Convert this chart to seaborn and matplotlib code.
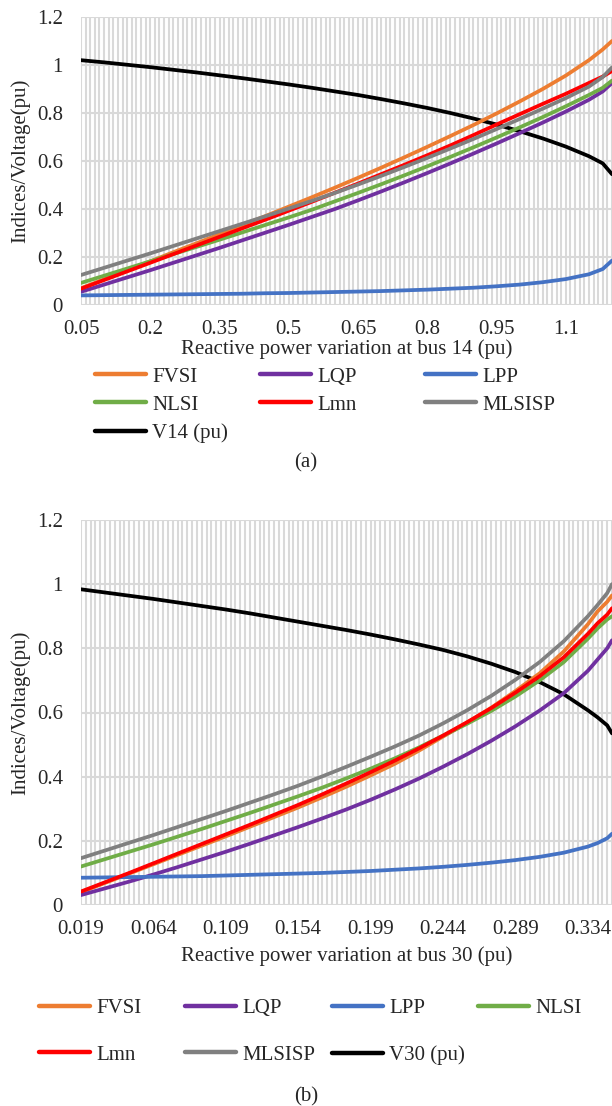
import numpy as np
import pandas as pd
import matplotlib
matplotlib.use("Agg")
import matplotlib.pyplot as plt
from matplotlib.ticker import FixedLocator, NullFormatter
from matplotlib.lines import Line2D
import seaborn as sns

sns.set_theme(style="white")
plt.rcParams['font.family'] = ['Liberation Serif', 'DejaVu Serif']

# ---------------- Data: (a) bus 14 ----------------
x_a = [0.05, 0.10, 0.15, 0.20, 0.25, 0.30, 0.35, 0.40, 0.45, 0.50, 0.55, 0.60,
       0.65, 0.70, 0.75, 0.80, 0.85, 0.90, 0.95, 1.00, 1.05, 1.10, 1.15, 1.18, 1.20]
fvsi_a = [0.070, 0.107, 0.145, 0.182, 0.220, 0.257, 0.295, 0.333, 0.371, 0.410, 0.449, 0.489,
          0.530, 0.572, 0.615, 0.659, 0.704, 0.750, 0.798, 0.848, 0.900, 0.956, 1.020, 1.065, 1.100]
lqp_a = [0.055, 0.085, 0.115, 0.145, 0.176, 0.207, 0.238, 0.270, 0.302, 0.334, 0.367, 0.400,
         0.436, 0.473, 0.511, 0.550, 0.590, 0.631, 0.673, 0.716, 0.760, 0.806, 0.855, 0.890, 0.925]
lpp_a = [0.040, 0.041, 0.042, 0.043, 0.044, 0.045, 0.046, 0.047, 0.049, 0.050, 0.052, 0.054,
         0.056, 0.058, 0.061, 0.064, 0.068, 0.072, 0.078, 0.085, 0.095, 0.108, 0.128, 0.150, 0.185]
nlsi_a = [0.092, 0.122, 0.152, 0.182, 0.212, 0.242, 0.272, 0.303, 0.334, 0.365, 0.397, 0.432,
          0.467, 0.503, 0.540, 0.578, 0.617, 0.657, 0.698, 0.740, 0.783, 0.828, 0.875, 0.905, 0.935]
lmn_a = [0.068, 0.104, 0.140, 0.176, 0.212, 0.248, 0.284, 0.320, 0.356, 0.393, 0.430, 0.468,
         0.506, 0.545, 0.584, 0.624, 0.665, 0.708, 0.752, 0.795, 0.838, 0.880, 0.925, 0.952, 0.975]
mlsisp_a = [0.125, 0.155, 0.185, 0.215, 0.246, 0.277, 0.308, 0.339, 0.370, 0.402, 0.434, 0.467,
            0.502, 0.538, 0.575, 0.613, 0.652, 0.692, 0.733, 0.775, 0.818, 0.862, 0.910, 0.950, 0.990]
v14 = [1.020, 1.011, 1.001, 0.991, 0.980, 0.969, 0.957, 0.945, 0.932, 0.919, 0.905, 0.890,
       0.875, 0.858, 0.840, 0.821, 0.800, 0.777, 0.752, 0.724, 0.694, 0.660, 0.620, 0.590, 0.545]
xticks_a = [0.05, 0.20, 0.35, 0.50, 0.65, 0.80, 0.95, 1.10]
xticklabels_a = ["0.05", "0.2", "0.35", "0.5", "0.65", "0.8", "0.95", "1.1"]

# ---------------- Data: (b) bus 30 ----------------
x_b = [0.019, 0.034, 0.049, 0.064, 0.079, 0.094, 0.109, 0.124, 0.139, 0.154, 0.169, 0.184,
       0.199, 0.214, 0.229, 0.244, 0.259, 0.274, 0.289, 0.304, 0.319, 0.334, 0.340, 0.346, 0.349]
fvsi_b = [0.040, 0.069, 0.098, 0.127, 0.156, 0.185, 0.214, 0.244, 0.274, 0.304, 0.336, 0.369,
          0.404, 0.440, 0.481, 0.525, 0.568, 0.615, 0.667, 0.722, 0.790, 0.875, 0.915, 0.945, 0.965]
lqp_b = [0.031, 0.052, 0.073, 0.095, 0.118, 0.142, 0.166, 0.191, 0.217, 0.243, 0.270, 0.298,
         0.328, 0.360, 0.394, 0.431, 0.470, 0.512, 0.557, 0.606, 0.660, 0.730, 0.765, 0.800, 0.825]
lpp_b = [0.085, 0.086, 0.087, 0.088, 0.089, 0.090, 0.092, 0.094, 0.096, 0.098, 0.100, 0.103,
         0.106, 0.110, 0.114, 0.119, 0.125, 0.132, 0.140, 0.150, 0.163, 0.182, 0.193, 0.208, 0.222]
nlsi_b = [0.120, 0.143, 0.166, 0.189, 0.213, 0.237, 0.262, 0.287, 0.313, 0.339, 0.366, 0.395,
          0.425, 0.457, 0.491, 0.528, 0.565, 0.605, 0.650, 0.700, 0.757, 0.830, 0.862, 0.890, 0.900]
lmn_b = [0.042, 0.071, 0.100, 0.130, 0.160, 0.190, 0.220, 0.250, 0.281, 0.312, 0.345, 0.379,
         0.414, 0.450, 0.488, 0.528, 0.570, 0.614, 0.662, 0.713, 0.772, 0.845, 0.878, 0.905, 0.925]
mlsisp_b = [0.146, 0.170, 0.194, 0.218, 0.243, 0.268, 0.293, 0.319, 0.345, 0.372, 0.401, 0.431,
            0.462, 0.494, 0.528, 0.566, 0.607, 0.652, 0.702, 0.757, 0.822, 0.900, 0.935, 0.972, 1.000]
v30 = [0.984, 0.974, 0.964, 0.954, 0.943, 0.932, 0.921, 0.909, 0.896, 0.883, 0.870, 0.857,
       0.843, 0.828, 0.812, 0.795, 0.775, 0.752, 0.726, 0.695, 0.657, 0.607, 0.585, 0.560, 0.535]
xticks_b = [0.019, 0.064, 0.109, 0.154, 0.199, 0.244, 0.289, 0.334]
xticklabels_b = ["0.019", "0.064", "0.109", "0.154", "0.199", "0.244", "0.289", "0.334"]

yticks = [0, 0.2, 0.4, 0.6, 0.8, 1.0, 1.2]
yticklabels = ["0", "0.2", "0.4", "0.6", "0.8", "1", "1.2"]

colors = {"FVSI": "#ED7D31", "LQP": "#7030A0", "LPP": "#4472C4", "NLSI": "#70AD47",
          "Lmn": "#FF0000", "MLSISP": "#808080", "V": "#000000"}

fig = plt.figure(figsize=(6.12, 11.06), dpi=100)
W, H = 612, 1106
def rect(l, t, r, b):
    return [l / W, 1 - b / H, (r - l) / W, (b - t) / H]

ax_a = fig.add_axes(rect(81, 17, 612, 305))
ax_b = fig.add_axes(rect(81, 520, 612, 905))

FS = 15
GRID = "#D9D9D9"

def draw(ax, x, series, vvals, xmin, xmax, step, xt, xtl, xlabel, xlabelpad):
    order = [("V", vvals)] + list(series)
    for key, vals in order:
        df = pd.DataFrame({"x": x, "y": vals})
        sns.lineplot(data=df, x="x", y="y", ax=ax, color=colors[key], linewidth=2.7,
                     sort=False, estimator=None, legend=False)
    ax.set_xlim(xmin, xmax)
    ax.set_ylim(0, 1.2)
    minor = np.round(np.arange(xmin, xmax + step / 2, step), 4)
    ax.xaxis.set_minor_locator(FixedLocator(minor))
    ax.xaxis.set_major_locator(FixedLocator(xt))
    ax.set_xticklabels(xtl, fontsize=FS)
    ax.xaxis.set_minor_formatter(NullFormatter())
    ax.yaxis.set_major_locator(FixedLocator(yticks))
    ax.set_yticklabels(yticklabels, fontsize=FS)
    ax.grid(True, which="both", axis="x", color=GRID, linewidth=1.5)
    ax.grid(True, which="major", axis="y", color=GRID, linewidth=1.5)
    ax.set_axisbelow(True)
    for s in ax.spines.values():
        s.set_visible(False)
    ax.tick_params(axis="x", which="both", length=0, pad=11)
    ax.tick_params(axis="y", which="both", length=0, pad=13)
    ax.set_xlabel(xlabel, fontsize=FS, labelpad=xlabelpad)
    ax.set_ylabel("Indices/Voltage(pu)", fontsize=FS, labelpad=5)
    ax.set_facecolor("white")

series_a = [("FVSI", fvsi_a), ("LQP", lqp_a), ("LPP", lpp_a), ("NLSI", nlsi_a),
            ("Lmn", lmn_a), ("MLSISP", mlsisp_a)]
series_b = [("FVSI", fvsi_b), ("LQP", lqp_b), ("LPP", lpp_b), ("NLSI", nlsi_b),
            ("Lmn", lmn_b), ("MLSISP", mlsisp_b)]

draw(ax_a, x_a, series_a, v14, 0.05, 1.20, 0.01, xticks_a, xticklabels_a,
     "Reactive power variation at bus 14 (pu)", 0)
draw(ax_b, x_b, series_b, v30, 0.019, 0.349, 0.003, xticks_b, xticklabels_b,
     "Reactive power variation at bus 30 (pu)", 5)

def entry(label, key, px, py):
    h = Line2D([], [], color=colors[key], linewidth=3.2, solid_capstyle="round")
    fig.legend([h], [label], loc="center left", bbox_to_anchor=(px / W, 1 - py / H),
               frameon=False, fontsize=FS, handlelength=2.45, handletextpad=0.3,
               borderaxespad=0, borderpad=0)

# legend (a): 3 columns
cols_a = [95, 260, 425]
rows_a = [377, 405, 433]
leg_a = [("FVSI", "FVSI"), ("LQP", "LQP"), ("LPP", "LPP"),
         ("NLSI", "NLSI"), ("Lmn", "Lmn"), ("MLSISP", "MLSISP"),
         ("V14 (pu)", "V")]
for i, (lab, key) in enumerate(leg_a):
    entry(lab, key, cols_a[i % 3], rows_a[i // 3])

# legend (b): 4 columns
cols_b = [39, 185, 332, 478]
rows_b = [1008, 1055]
leg_b = [("FVSI", "FVSI"), ("LQP", "LQP"), ("LPP", "LPP"), ("NLSI", "NLSI"),
         ("Lmn", "Lmn"), ("MLSISP", "MLSISP"), ("V30 (pu)", "V")]
for i, (lab, key) in enumerate(leg_b):
    entry(lab, key, cols_b[i % 4], rows_b[i // 4])

fig.text(306 / W, 1 - 463 / H, "(a)", ha="center", va="center", fontsize=FS)
fig.text(306 / W, 1 - 1097 / H, "(b)", ha="center", va="center", fontsize=FS)

fig.savefig("out.png", dpi=100, facecolor="white")
